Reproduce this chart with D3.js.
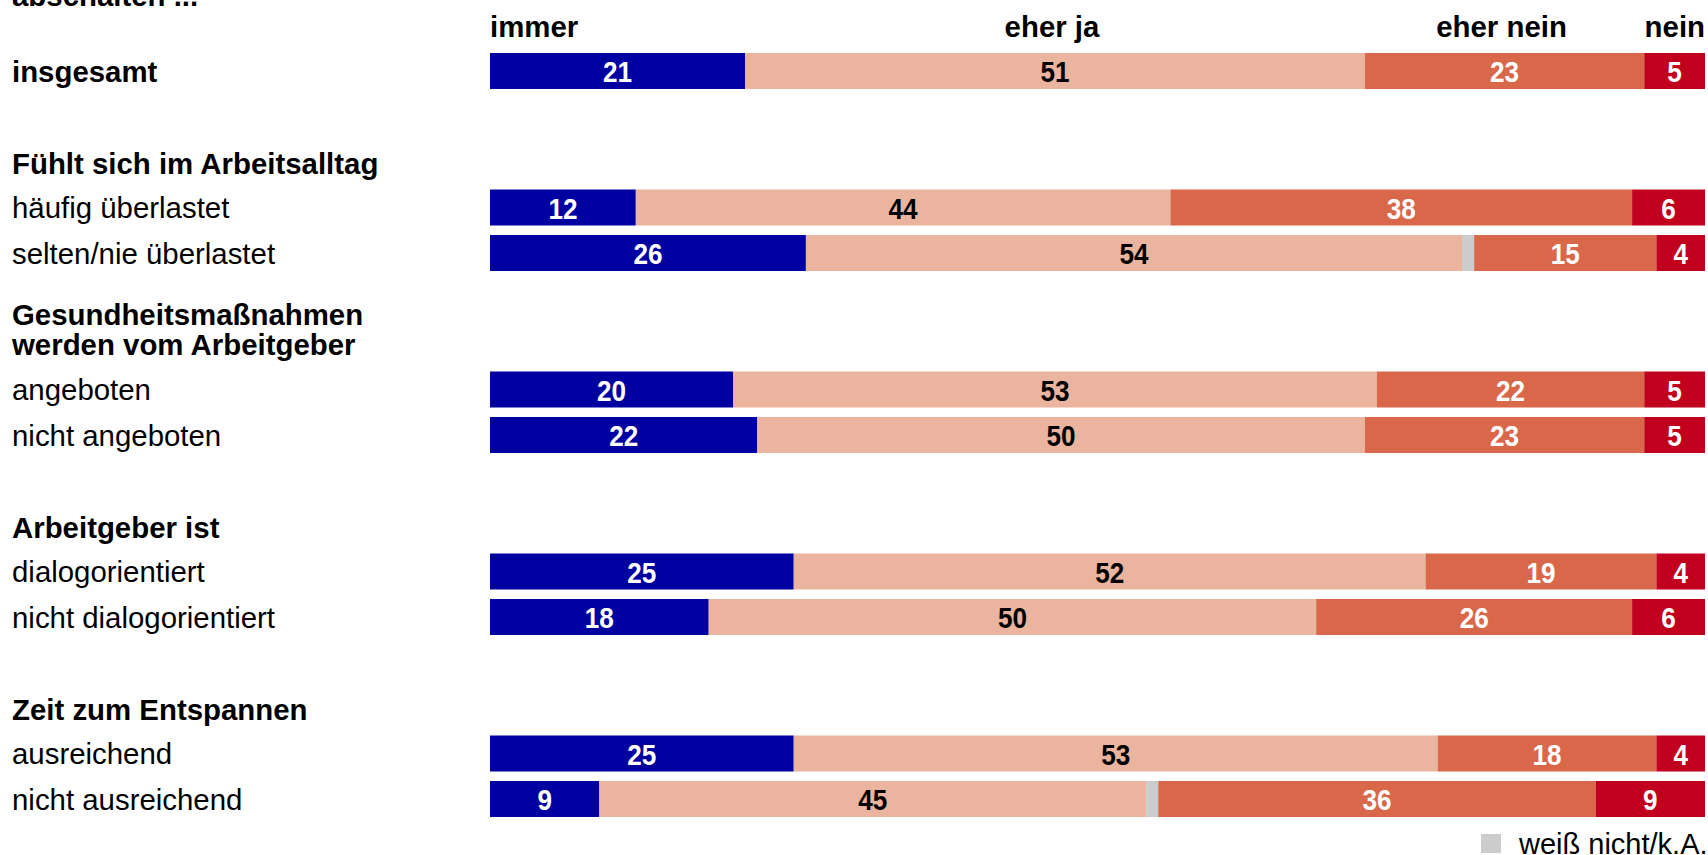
<!DOCTYPE html>
<html>
<head>
<meta charset="utf-8">
<script src="https://cdn.jsdelivr.net/npm/d3@7"></script>
<style>
  body { margin: 0; background: #fff; }
  svg { display: block; font-family: "Liberation Sans", Arial, sans-serif; }
</style>
</head>
<body>
<svg id="chart"></svg>
<script>
// answer categories, in bar order
var categories = ["immer", "eher ja", "weiß nicht/k.A.", "eher nein", "nein"];
var colors = ["#0000a0", "#ebb49e", "#cccccc", "#d9674a", "#c0001c"];

// rows (labels) and their values per category
var rowLabels = ["insgesamt", "häufig überlastet", "selten/nie überlastet", "angeboten", "nicht angeboten",
    "dialogorientiert", "nicht dialogorientiert", "ausreichend", "nicht ausreichend"];
var immer     = [21, 12, 26, 20, 22, 25, 18, 25, 9];
var eherJa    = [51, 44, 54, 53, 50, 52, 50, 53, 45];
var weissNich = [0, 0, 1, 0, 0, 0, 0, 0, 1];
var eherNein  = [23, 38, 15, 22, 23, 19, 26, 18, 36];
var nein      = [5, 6, 4, 5, 5, 4, 6, 4, 9];

// row slot index (groups are separated by header slots)
var rowSlots = [0, 3, 4, 7, 8, 11, 12, 15, 16];
var groupHeaders = [
    { lines: ["Fühlt sich im Arbeitsalltag"], slot: 2 },
    { lines: ["Gesundheitsmaßnahmen", "werden vom Arbeitgeber"], slot: 6 },
    { lines: ["Arbeitgeber ist"], slot: 10 },
    { lines: ["Zeit zum Entspannen"], slot: 14 }
];
var title = "abschalten ...";

var W = 1708, H = 855;
var svg = d3.select("#chart").attr("width", W).attr("height", H);

var x = d3.scaleLinear().domain([0, 100]).range([490, 1705]);
var y = d3.scaleLinear().domain([0, 16]).range([71, 799]);
var barH = 36;
var fs = 29.4;

// stacked data
var series = [immer, eherJa, weissNich, eherNein, nein];
var rows = rowLabels.map(function (label, i) {
    var start = 0;
    var segs = series.map(function (s, k) {
        var seg = { cat: k, v: s[i], x0: start, x1: start + s[i] };
        start += s[i];
        return seg;
    });
    return { label: label, slot: rowSlots[i], segs: segs };
});

// title (cropped at top)
svg.append("text").attr("x", 12).attr("y", 6)
    .style("font-weight", "bold").style("font-size", fs + "px").text(title);

// column heads above the first bar
var first = rows[0].segs.filter(function (s) { return s.v > 0; });
svg.selectAll(".colhead").data(first).enter().append("text")
    .attr("class", "colhead")
    .attr("x", function (d, i) {
        if (i === 0) return x(d.x0);
        if (i === first.length - 1) return x(d.x1);
        return x((d.x0 + d.x1) / 2) - 3;
    })
    .attr("y", 37)
    .attr("text-anchor", function (d, i) {
        return i === 0 ? "start" : (i === first.length - 1 ? "end" : "middle");
    })
    .style("font-weight", "bold").style("font-size", fs + "px")
    .text(function (d) { return categories[d.cat]; });

// group headers
groupHeaders.forEach(function (g) {
    g.lines.forEach(function (line, j) {
        svg.append("text")
            .attr("x", 12)
            .attr("y", y(g.slot) + 10 - (g.lines.length - 1 - j) * 30 + (g.lines.length === 1 ? 2 : 1))
            .style("font-weight", "bold").style("font-size", fs + "px")
            .text(line);
    });
});

var rowG = svg.selectAll(".row").data(rows).enter().append("g")
    .attr("class", "row")
    .attr("transform", function (d) { return "translate(0," + y(d.slot) + ")"; });

rowG.append("text")
    .attr("x", 12).attr("y", 10.5)
    .style("font-size", fs + "px")
    .style("font-weight", function (d, i) { return i === 0 ? "bold" : "normal"; })
    .text(function (d) { return d.label; });

rowG.selectAll("rect").data(function (d) { return d.segs.filter(function (s) { return s.v > 0; }); })
    .enter().append("rect")
    .attr("x", function (d) { return x(d.x0); })
    .attr("width", function (d) { return x(d.x1) - x(d.x0); })
    .attr("y", -barH / 2).attr("height", barH)
    .attr("fill", function (d) { return colors[d.cat]; });

rowG.selectAll(".val").data(function (d) { return d.segs.filter(function (s) { return s.v > 1; }); })
    .enter().append("text")
    .attr("class", "val")
    .attr("x", function (d) { return x((d.x0 + d.x1) / 2); })
    .attr("y", 11)
    .attr("text-anchor", "middle")
    .style("font-weight", "bold").style("font-size", "29px")
    .attr("fill", function (d) { return d.cat === 1 ? "#000" : "#fff"; })
    .text(function (d) { return d.v; })
    .each(function () {
        // numbers are a bit condensed
        var w = this.getComputedTextLength();
        d3.select(this).attr("textLength", w * 0.9).attr("lengthAdjust", "spacingAndGlyphs");
    });

// legend for the gray segment
var lg = svg.append("g").attr("transform", "translate(1481,834)");
lg.append("rect").attr("width", 20).attr("height", 19).attr("fill", colors[2]);
lg.append("text").attr("x", 38).attr("y", 20)
    .style("font-size", "29px").text(categories[2]);
</script>
</body>
</html>
